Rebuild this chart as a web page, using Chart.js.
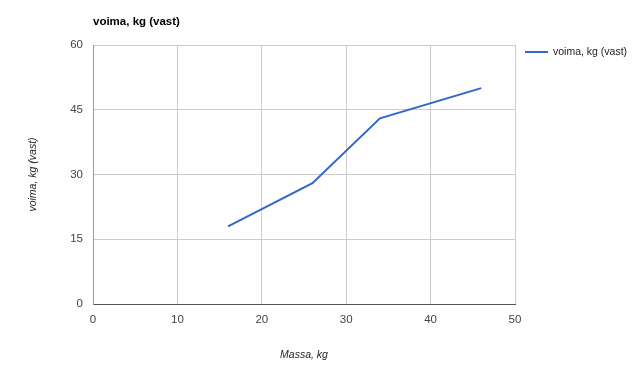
<!DOCTYPE html>
<html>
<head>
<meta charset="utf-8">
<script src="https://cdn.jsdelivr.net/npm/chart.js@4"></script>
<style>
  html, body { margin: 0; padding: 0; background: #fff; }
  #wrap { width: 640px; height: 373px; position: relative; }
</style>
</head>
<body>
<div id="wrap"><canvas id="chart"></canvas></div>
<script>
// data
const massa = [16, 26, 34, 46];
const voima = [18, 28, 43, 50];
const xTicks = [0, 10, 20, 30, 40, 50];
const yTicks = [0, 15, 30, 45, 60];
const seriesName = 'voima, kg (vast)';
const xTitle = 'Massa, kg';
const yTitle = 'voima, kg (vast)';

const lineColor = '#3366cc';

// title, legend and axis titles drawn in google-charts spots
const labelsPlugin = {
    id: 'labels',
    afterDraw(chart) {
        const ctx = chart.ctx;
        const area = chart.chartArea;
        ctx.save();
        ctx.textBaseline = 'middle';

        ctx.fillStyle = '#000';
        ctx.font = 'bold 11.5px "Liberation Sans", Arial, sans-serif';
        ctx.textAlign = 'left';
        ctx.fillText(seriesName, area.left, 22);

        ctx.strokeStyle = lineColor;
        ctx.lineWidth = 2;
        ctx.beginPath();
        ctx.moveTo(525, 52);
        ctx.lineTo(548, 52);
        ctx.stroke();
        ctx.fillStyle = '#222';
        ctx.font = '10.5px "Liberation Sans", Arial, sans-serif';
        ctx.fillText(seriesName, 553, 52);

        ctx.fillStyle = '#222';
        ctx.font = 'italic 10.5px "Liberation Sans", Arial, sans-serif';
        ctx.textAlign = 'center';
        ctx.fillText(xTitle, (area.left + area.right) / 2, 355);

        ctx.translate(33, (area.top + area.bottom) / 2);
        ctx.rotate(-Math.PI / 2);
        ctx.fillText(yTitle, 0, 0);
        ctx.restore();
    }
};

const ctx = document.getElementById('chart').getContext('2d');
new Chart(ctx, {
    type: 'scatter',
    data: {
        datasets: [{
            label: seriesName,
            data: massa.map((m, i) => ({ x: m, y: voima[i] })),
            showLine: true,
            borderColor: lineColor,
            backgroundColor: lineColor,
            borderWidth: 2,
            pointRadius: 0,
            tension: 0
        }]
    },
    options: {
        responsive: true,
        maintainAspectRatio: false,
        animation: false,
        layout: {
            padding: { left: 0, right: 125, top: 45, bottom: 0 }
        },
        plugins: {
            legend: { display: false },
            tooltip: { enabled: false }
        },
        scales: {
            x: {
                type: 'linear',
                min: xTicks[0],
                max: xTicks[xTicks.length - 1],
                afterBuildTicks: s => { s.ticks = xTicks.map(v => ({ value: v })); },
                afterFit: s => { s.height = 69; },
                grid: { color: '#cccccc', drawTicks: false },
                border: { color: '#555555' },
                ticks: {
                    padding: 9,
                    color: '#444',
                    font: { family: '"Liberation Sans", Arial, sans-serif', size: 11.5 }
                }
            },
            y: {
                type: 'linear',
                min: yTicks[0],
                max: yTicks[yTicks.length - 1],
                afterBuildTicks: s => { s.ticks = yTicks.map(v => ({ value: v })); },
                afterFit: s => { s.width = 93; },
                grid: { color: '#cccccc', drawTicks: false },
                border: { color: '#999999' },
                ticks: {
                    padding: 10,
                    color: '#444',
                    font: { family: '"Liberation Sans", Arial, sans-serif', size: 11.5 }
                }
            }
        }
    },
    plugins: [labelsPlugin]
});
</script>
</body>
</html>
